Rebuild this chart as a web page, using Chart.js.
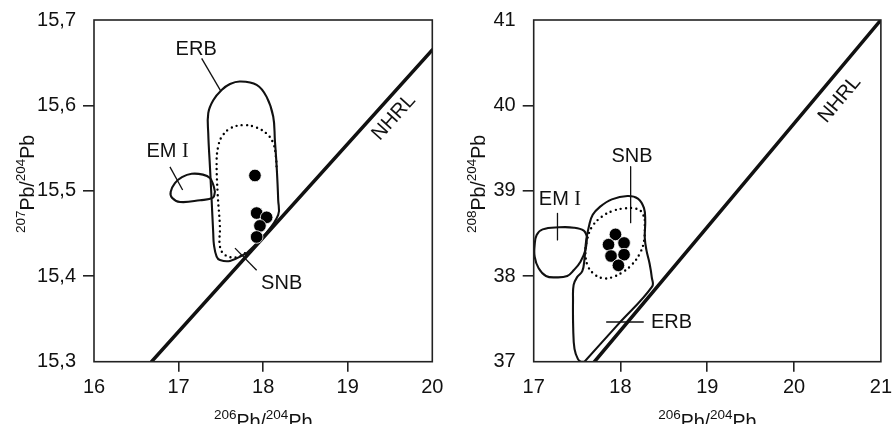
<!DOCTYPE html>
<html><head><meta charset="utf-8">
<script src="https://cdn.jsdelivr.net/npm/chart.js@4.4.1/dist/chart.umd.min.js"></script>
<style>
html,body{margin:0;padding:0;background:#fff;overflow:hidden}
#wrap{display:flex;width:896px;height:424px}
canvas{display:block}
</style></head><body>
<div id="wrap"><canvas id="c1" width="448" height="424"></canvas><canvas id="c2" width="448" height="424"></canvas></div>
<script>
// ================= LEFT PANEL: 206Pb/204Pb vs 207Pb/204Pb =================
const leftXTicks = [16, 17, 18, 19, 20];
const leftYTicks = [15.3, 15.4, 15.5, 15.6, 15.7];
const leftNHRL = [{x:16.68,y:15.3},{x:20.0,y:15.665}];
const leftERB = [
  {x:17.805,y:15.427},{x:17.608,y:15.418},{x:17.489,y:15.419},{x:17.450,y:15.423},
  {x:17.418,y:15.437},{x:17.410,y:15.450},{x:17.391,y:15.489},{x:17.371,y:15.528},
  {x:17.351,y:15.567},{x:17.351,y:15.591},{x:17.410,y:15.606},{x:17.509,y:15.618},
  {x:17.608,y:15.625},{x:17.726,y:15.628},{x:17.923,y:15.624},{x:18.041,y:15.610},
  {x:18.119,y:15.587},{x:18.139,y:15.559},{x:18.160,y:15.528},{x:18.178,y:15.489},
  {x:18.178,y:15.472},{x:18.021,y:15.449},{x:17.805,y:15.427}
];
const leftSNB = [
  {x:17.785,y:15.427},{x:17.687,y:15.422},{x:17.548,y:15.425},{x:17.489,y:15.435},
  {x:17.489,y:15.458},{x:17.462,y:15.497},{x:17.450,y:15.536},{x:17.469,y:15.552},
  {x:17.509,y:15.563},{x:17.608,y:15.573},{x:17.765,y:15.577},{x:17.923,y:15.574},
  {x:18.041,y:15.567},{x:18.119,y:15.556},{x:18.151,y:15.540},{x:18.160,y:15.525}
];
const leftEM1 = [
  {x:17.430,y:15.499},{x:17.407,y:15.492},{x:17.253,y:15.489},{x:17.017,y:15.487},
  {x:16.922,y:15.492},{x:16.907,y:15.499},{x:16.957,y:15.509},{x:17.040,y:15.516},
  {x:17.155,y:15.520},{x:17.288,y:15.519},{x:17.371,y:15.515},{x:17.410,y:15.507},
  {x:17.430,y:15.499}
];
const leftSamples = [
  {x:17.903,y:15.518},{x:17.923,y:15.474},{x:18.041,y:15.469},{x:17.962,y:15.459},{x:17.923,y:15.446}
];
const leftLeaders = [
  [{x:17.273,y:15.655},{x:17.498,y:15.617}],
  [{x:16.898,y:15.528},{x:17.048,y:15.501}],
  [{x:17.667,y:15.433},{x:17.923,y:15.407}]
];
const leftLabels = [
  {text:'ERB', x:17.208, y:15.666},
  {text:'EM I', x:16.869, y:15.546},
  {text:'SNB', x:18.219, y:15.391}
];
const leftNHRLLabel = {text:'NHRL', x:19.546, y:15.586};
const leftXTitle = [{t:'206',sup:1},{t:'Pb/'},{t:'204',sup:1},{t:'Pb'}];
const leftYTitle = [{t:'207',sup:1},{t:'Pb/'},{t:'204',sup:1},{t:'Pb'}];

// ================= RIGHT PANEL: 206Pb/204Pb vs 208Pb/204Pb =================
const rightXTicks = [17, 18, 19, 20, 21];
const rightYTicks = [37, 38, 39, 40, 41];
const rightNHRL = [{x:17.70,y:37.0},{x:21.0,y:41.0}];
const rightERB = [
  {x:17.585,y:37.0},{x:17.545,y:37.0},{x:17.51,y:37.03},{x:17.47,y:37.15},
  {x:17.455,y:37.4},{x:17.453,y:37.72},{x:17.46,y:37.9},{x:17.5,y:37.99},
  {x:17.56,y:38.06},{x:17.585,y:38.2},{x:17.605,y:38.42},{x:17.64,y:38.6},
  {x:17.68,y:38.72},{x:17.76,y:38.81},{x:17.9,y:38.9},{x:18.08,y:38.94},
  {x:18.2,y:38.91},{x:18.27,y:38.8},{x:18.285,y:38.65},{x:18.28,y:38.45},
  {x:18.3,y:38.3},{x:18.335,y:38.15},{x:18.36,y:37.99},{x:18.364,y:37.878},
  {x:17.975,y:37.44},{x:17.585,y:37.0}
];
const rightSNB = [
  {x:18.28,y:38.66},{x:18.273,y:38.424},{x:18.223,y:38.268},{x:18.128,y:38.132},
  {x:18.014,y:38.042},{x:17.900,y:37.987},{x:17.805,y:37.976},{x:17.710,y:38.015},
  {x:17.627,y:38.112},{x:17.596,y:38.268},{x:17.615,y:38.424},{x:17.672,y:38.580},
  {x:17.786,y:38.698},{x:17.919,y:38.768},{x:18.052,y:38.795},{x:18.166,y:38.795},
  {x:18.242,y:38.756},{x:18.28,y:38.66}
];
const rightEM1 = [
  {x:17.615,y:38.463},{x:17.577,y:38.534},{x:17.463,y:38.569},{x:17.292,y:38.573},
  {x:17.103,y:38.549},{x:17.034,y:38.483},{x:17.011,y:38.366},{x:17.011,y:38.229},
  {x:17.057,y:38.093},{x:17.141,y:38.003},{x:17.255,y:37.987},{x:17.387,y:38.003},
  {x:17.463,y:38.073},{x:17.539,y:38.171},{x:17.596,y:38.307},{x:17.615,y:38.463}
];
const rightSamples = [
  {x:17.942,y:38.49},{x:17.862,y:38.37},{x:18.041,y:38.39},{x:17.891,y:38.237},{x:18.041,y:38.253},{x:17.976,y:38.128}
];
const rightLeaders = [
  [{x:17.274,y:38.737},{x:17.274,y:38.425}],
  [{x:18.117,y:39.283},{x:18.117,y:38.627}],
  [{x:17.835,y:37.465},{x:18.268,y:37.465}]
];
const rightLabels = [
  {text:'EM I', x:17.302, y:38.897},
  {text:'SNB', x:18.132, y:39.40},
  {text:'ERB', x:18.587, y:37.46}
];
const rightNHRLLabel = {text:'NHRL', x:20.525, y:40.07};
const rightXTitle = [{t:'206',sup:1},{t:'Pb/'},{t:'204',sup:1},{t:'Pb'}];
const rightYTitle = [{t:'208',sup:1},{t:'Pb/'},{t:'204',sup:1},{t:'Pb'}];

// ================= rendering =================
const INK = '#111';
const SANS = "'Liberation Sans', Arial, sans-serif";
const MAIN_FONT = "19.5px " + SANS;
const SUP_FONT = "13.5px " + SANS;
const LABEL_FONT = "20px " + SANS;
const SERIF_FONT = "20px 'Liberation Serif', 'DejaVu Serif', serif";
const SUP_RAISE = 9;

function partsWidth(ctx, parts){
  let w = 0;
  for (const p of parts){ ctx.font = p.sup ? SUP_FONT : MAIN_FONT; w += ctx.measureText(p.t).width; }
  return w;
}
function drawParts(ctx, parts, cx, baseY){
  let x = cx - partsWidth(ctx, parts)/2;
  ctx.textAlign = 'left'; ctx.textBaseline = 'alphabetic';
  for (const p of parts){
    ctx.font = p.sup ? SUP_FONT : MAIN_FONT;
    ctx.fillText(p.t, x, p.sup ? baseY - SUP_RAISE : baseY);
    x += ctx.measureText(p.t).width;
  }
}
function drawLabel(ctx, text, px, py){
  ctx.textBaseline = 'middle'; ctx.textAlign = 'left';
  if (text.endsWith(' I')) {
    const a = text.slice(0, -1), b = 'I';
    ctx.font = LABEL_FONT; const wa = ctx.measureText(a).width;
    ctx.font = SERIF_FONT; const wb = ctx.measureText(b).width;
    let x = px - (wa + wb)/2;
    ctx.font = LABEL_FONT; ctx.fillText(a, x, py);
    ctx.font = SERIF_FONT; ctx.fillText(b, x + wa, py);
  } else {
    ctx.font = LABEL_FONT; ctx.textAlign = 'center'; ctx.fillText(text, px, py);
  }
}

const deco = {
  id: 'deco',
  afterDatasetsDraw(chart, args, o){
    const {ctx, chartArea:a, scales:{x, y}} = chart;
    ctx.save();
    ctx.strokeStyle = '#222'; ctx.lineWidth = 1.6;
    ctx.strokeRect(a.left, a.top, a.right - a.left, a.bottom - a.top);
    ctx.fillStyle = INK;
    for (const l of o.labels) drawLabel(ctx, l.text, x.getPixelForValue(l.x), y.getPixelForValue(l.y));
    const p1x = x.getPixelForValue(o.line[0].x), p1y = y.getPixelForValue(o.line[0].y);
    const p2x = x.getPixelForValue(o.line[1].x), p2y = y.getPixelForValue(o.line[1].y);
    const ang = Math.atan2(p2y - p1y, p2x - p1x);
    ctx.save();
    ctx.translate(x.getPixelForValue(o.nhrl.x), y.getPixelForValue(o.nhrl.y));
    ctx.rotate(ang);
    ctx.font = LABEL_FONT; ctx.textAlign = 'center'; ctx.textBaseline = 'middle';
    ctx.fillText(o.nhrl.text, 0, 0);
    ctx.restore();
    drawParts(ctx, o.xTitle, (a.left + a.right)/2, 428);
    ctx.save();
    ctx.translate(o.yTitleX, o.yTitleY);
    ctx.rotate(-Math.PI/2);
    drawParts(ctx, o.yTitle, 0, 0);
    ctx.restore();
    ctx.restore();
  }
};

function lineDs(data, w, extra){
  return Object.assign({data, showLine:true, borderColor:INK, borderWidth:w, pointRadius:0,
    tension:0.4, fill:false, borderJoinStyle:'round', borderCapStyle:'round'}, extra||{});
}

function makeChart(id, d){
  const endTick = (c) => (c.index === 0 || c.index === c.chart.scales[c.scale.id].ticks.length - 1) ? 'rgba(0,0,0,0)' : '#222';
  const datasets = [
    {data:d.samples, showLine:false, pointRadius:6.3, pointBackgroundColor:'#000',
      pointBorderColor:'#fff', pointBorderWidth:0.8, pointHoverRadius:6.3},
    lineDs(d.line, 3.5, {tension:0}),
    lineDs(d.erb, 2.1),
    lineDs(d.em1, 2.1),
    lineDs(d.snb, 2.4, {borderDash:[0,5.2], borderColor:'#000'}),
  ];
  for (const l of d.leaders) datasets.push(lineDs(l, 1.3, {tension:0, borderCapStyle:'butt'}));
  return new Chart(document.getElementById(id), {
    type:'scatter',
    data:{datasets},
    options:{
      responsive:false, animation:false, events:[],
      layout:{padding:{top:20, right:d.padRight, left:0, bottom:0}},
      plugins:{legend:{display:false}, tooltip:{enabled:false},
        deco:{labels:d.labels, nhrl:d.nhrl, line:d.line, xTitle:d.xTitle, yTitle:d.yTitle,
              yTitleX:d.yTitleX, yTitleY:d.yTitleY}},
      scales:{
        x:{type:'linear', min:d.xTicks[0], max:d.xTicks[d.xTicks.length-1],
          afterBuildTicks:s => { s.ticks = d.xTicks.map(v => ({value:v})); },
          afterFit:s => { s.height = 62.3; },
          border:{display:false},
          grid:{drawOnChartArea:false, drawTicks:true, tickLength:10, lineWidth:1.6, color:endTick},
          ticks:{color:INK, font:{family:SANS, size:20}, padding:4, maxRotation:0,
            callback:v => String(v)}},
        y:{type:'linear', min:d.yTicks[0], max:d.yTicks[d.yTicks.length-1],
          afterBuildTicks:s => { s.ticks = d.yTicks.map(v => ({value:v})); },
          afterFit:s => { s.width = d.yWidth; },
          border:{display:false},
          grid:{drawOnChartArea:false, drawTicks:true, tickLength:11, lineWidth:1.6, color:endTick},
          ticks:{color:INK, font:{family:SANS, size:20}, padding:7,
            callback:v => d.decimals ? v.toFixed(d.decimals).replace('.', ',') : String(v)}}
      }
    },
    plugins:[deco]
  });
}

makeChart('c1', {samples:leftSamples, line:leftNHRL, erb:leftERB, em1:leftEM1, snb:leftSNB,
  leaders:leftLeaders, labels:leftLabels, nhrl:leftNHRLLabel, xTitle:leftXTitle, yTitle:leftYTitle,
  xTicks:leftXTicks, yTicks:leftYTicks, decimals:1, yWidth:94, padRight:15.7, yTitleX:34, yTitleY:184});
makeChart('c2', {samples:rightSamples, line:rightNHRL, erb:rightERB, em1:rightEM1, snb:rightSNB,
  leaders:rightLeaders, labels:rightLabels, nhrl:rightNHRLLabel, xTitle:rightXTitle, yTitle:rightYTitle,
  xTicks:rightXTicks, yTicks:rightYTicks, decimals:0, yWidth:85.7, padRight:11.3, yTitleX:36.5, yTitleY:184});
</script>
</body></html>
